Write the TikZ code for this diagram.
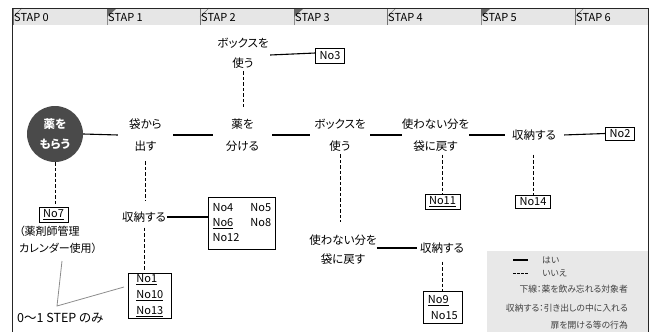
\documentclass[tikz,border=0pt]{standalone}
\usepackage{fontspec}
\setmainfont[RawFeature=+palt]{Noto Sans CJK JP}
\definecolor{hdr}{HTML}{E6E6E6}
\definecolor{tabdark}{HTML}{666666}
\definecolor{circfill}{HTML}{4A4A4A}
\definecolor{leg}{HTML}{E8E8E8}
\begin{document}
\begin{tikzpicture}[x=1pt,y=-1pt,
  yes/.style={line width=1.1pt},
  no/.style={line width=0.95pt,dash pattern=on 3.5pt off 2pt},
  lbl/.style={font=\fontsize{11.5}{22}\selectfont,align=center,inner sep=0pt},
  nobox/.style={draw,line width=0.7pt,font=\fontsize{11}{15}\selectfont,inner xsep=4pt,inner ysep=2.5pt},
  hdrtxt/.style={font=\fontsize{11}{12}\selectfont,anchor=west,inner sep=0pt},
  legtxt/.style={font=\fontsize{8.8}{10}\selectfont,text=black!75,inner sep=0pt},
  grayline/.style={draw=black!45,line width=0.8pt},
]
\useasboundingbox (0,0) rectangle (651,332);
% header
\fill[hdr] (12,8) rectangle (648,25);
\foreach \i/\x in {0/13,2/200,4/387,6/575}{
  \draw[black!55,line width=0.6pt] (\x,25) -- (\x,8);
  \draw[black!55,line width=0.6pt] (\x,17) -- (\x+9,8);
  \node[hdrtxt] (hdr\i) at (\x+1,17.5) {STAP \i};
}
\foreach \i/\x in {1/107,3/294,5/481}{
  \draw[black!45,line width=0.6pt] (\x,25) -- (\x,8);
  \fill[tabdark] (\x,8) -- (\x+10,8) -- (\x,17) -- cycle;
  \node[hdrtxt] (hdr\i) at (\x+1,17.5) {STAP \i};
}
\draw[line width=1pt,black!85] (12,332) -- (12,8) -- (648,8) -- (648,332);

% legend background
\fill[leg] (487,251) rectangle (647.5,332);

% main row
\node[circle,fill=circfill,minimum size=56pt,inner sep=0pt,text=white,
      font=\bfseries\fontsize{11.5}{20}\selectfont,align=center] (circ) at (55,134) {薬を\\もらう};
\node[lbl,minimum width=55pt] (n1) at (145.5,135) {袋から\\出す};
\node[lbl,minimum width=59pt] (n2) at (242.5,135) {薬を\\分ける};
\node[lbl,minimum width=60pt] (n3) at (340,135) {ボックスを\\使う};
\node[lbl,minimum width=59pt] (n4) at (435.5,135) {使わない分を\\袋に戻す};
\node[lbl,minimum width=58pt] (n5) at (534,135) {収納する};
\node[nobox] (nb2) at (620,133.5) {No2};

% top row
\node[lbl,font=\fontsize{11.5}{20}\selectfont,minimum width=54pt] (t1) at (243,53) {ボックスを\\使う};
\node[nobox,inner ysep=3.5pt] (nb3) at (330,56) {No3};

% left column
\node[nobox] (nb7) at (53.5,214.5) {\underline{No7}};
\node[inner sep=0pt,align=left,anchor=north west,font=\fontsize{11}{17}\selectfont] (note) at (19,226) {（薬剤師管理\\カレンダー使用）};
\node[inner sep=0pt,anchor=west,font=\fontsize{12.5}{14}\selectfont] (step) at (17,318) {0〜1 STEP のみ};

% second column
\node[lbl] (s1) at (144,217) {収納する};
\node[draw,line width=0.7pt,anchor=north west,minimum width=67pt,minimum height=52pt,inner sep=0pt,
      font=\fontsize{11}{15}\selectfont] (nbA) at (208,197)
  {\begin{tabular}{@{}l@{\hspace{11pt}}l@{}}No4 & No5\\ \underline{No6} & No8\\ No12 & \end{tabular}};
\node[draw,line width=0.7pt,anchor=north west,minimum width=43pt,minimum height=45pt,inner sep=0pt,
      align=left,font=\fontsize{11}{16}\selectfont] (nb1) at (128,273)
  {\underline{No1}\\\underline{No10}\\\underline{No13}};

% third column lower
\node[lbl,font=\fontsize{11.5}{19}\selectfont] (s3) at (343,249.5) {使わない分を\\袋に戻す};
\node[lbl] (s4) at (442,248) {収納する};
\node[draw,line width=0.7pt,anchor=north west,minimum width=39pt,minimum height=32pt,inner sep=0pt,
      align=left,font=\fontsize{11}{16}\selectfont] (nb9) at (423,291)
  {\underline{No9}\\\hspace{3pt}No15};

\node[nobox] (nb11) at (442.5,201.5) {\underline{No11}};
\node[nobox] (nb14) at (533,201.5) {No14};

% solid connectors
\draw[yes] (circ.east) -- (n1.west);
\draw[yes] (n1.east) -- (n2.west);
\draw[yes] (n2.east) -- (n3.west);
\draw[yes] (n3.east) -- (n4.west);
\draw[yes] (n4.east) -- (n5.west);
\draw[yes,shorten <=1pt] (n5.east) -- (nb2.west);
\draw[yes] ([yshift=-2pt]t1.east) -- (t1.east -| nb3.west) ;
\draw[yes,shorten <=1pt] (s1.east) -- (s1.east -| nbA.west);
\draw[yes,shorten >=3pt] (s3.east |- s4.west) -- (s4.west);

% dashed connectors
\draw[no,shorten >=2pt] (circ.south) -- (circ.south |- nb7.north);
\draw[no,shorten <=10pt,shorten >=11pt] (n1.south) -- (n1.south |- s1.north);
\draw[no,shorten <=5pt,shorten >=3pt] (s1.south) -- (s1.south |- nb1.north);
\draw[no,shorten <=3pt,shorten >=11pt] (t1.south) -- (t1.south |- n2.north);
\draw[no,shorten <=3pt,shorten >=12pt] (n3.south) -- (n3.south |- s3.north);
\draw[no,shorten <=8pt] (s4.south -| nb9.north) -- (nb9.north);
\draw[no,shorten <=3pt] (n4.south -| nb11.north) -- (nb11.north);
\draw[no,shorten <=14pt] (n5.south -| nb14.north) -- (nb14.north);

% gray pointer lines
\coordinate (vtx) at (57,306);
\coordinate (g1) at (62,261);
\coordinate (g2) at (124,287);
\draw[grayline] (g1) -- (vtx) -- (g2);

% legend
\coordinate (la1) at (513,260);
\coordinate (la2) at (528,260);
\coordinate (lb1) at (513,273);
\coordinate (lb2) at (528,273);
\draw[yes] (la1) -- (la2);
\draw[no,dash pattern=on 2.5pt off 1.5pt] (lb1) -- (lb2);
\node[legtxt,anchor=west] (lg1) at (542,260) {はい};
\node[legtxt,anchor=west] (lg2) at (542,273) {いいえ};
\node[legtxt,anchor=east] (lg3) at (628,289) {下線：薬を飲み忘れる対象者};
\node[legtxt,anchor=east] (lg4) at (628,308) {収納する：引き出しの中に入れる};
\node[legtxt,anchor=east] (lg5) at (628,325) {扉を開ける等の行為};
\end{tikzpicture}
\end{document}
